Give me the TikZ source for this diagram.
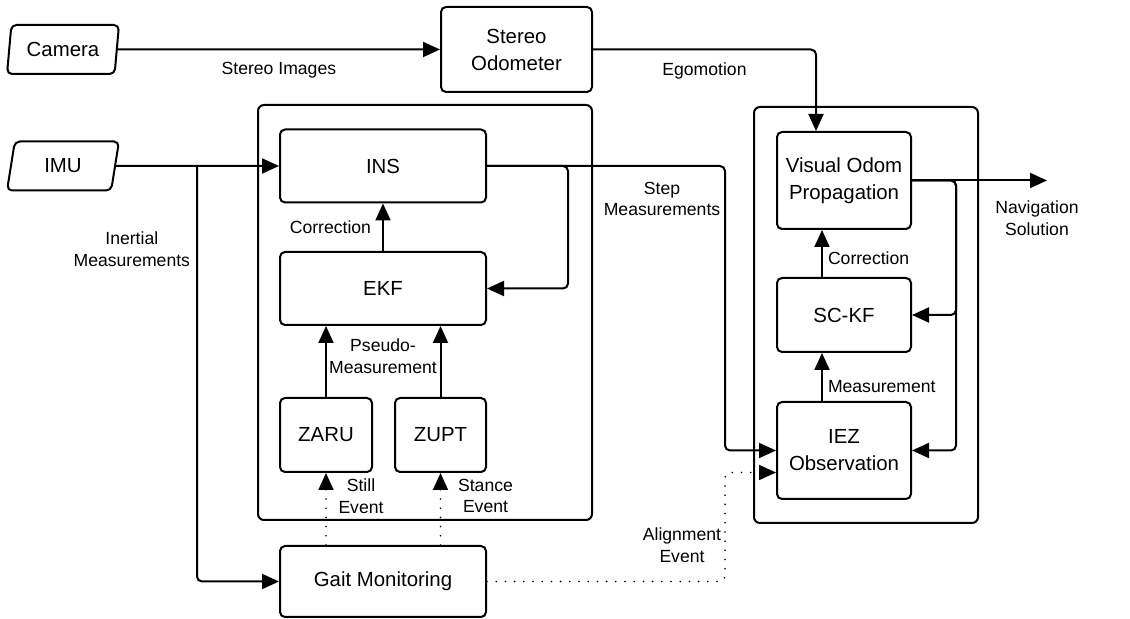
\documentclass[tikz,border=0pt]{standalone}
\usepackage{fontspec}
\setmainfont{Liberation Sans}
\usepackage{tikz}
\usetikzlibrary{arrows.meta,shapes.geometric}

\begin{document}
\begin{tikzpicture}[x=0.5pt,y=-0.5pt,
        >={Triangle[length=8.5pt,width=7.5pt]},
        block/.style={draw,line width=1pt,rounded corners=2.5pt,align=center,
              inner sep=0pt,font=\fontsize{10.2}{13.5}\selectfont},
        source/.style={draw,line width=1pt,trapezium,trapezium left angle=78,
              trapezium right angle=102,trapezium stretches=true,
              minimum width=56pt,minimum height=24.5pt,rounded corners=2.5pt,
              inner sep=0pt,font=\fontsize{10.2}{13.5}\selectfont},
        conn/.style={->,line width=1pt,rounded corners=2.5pt},
        event/.style={->,line width=0.9pt,line cap=round,dash pattern=on 0pt off 4.6pt,
              rounded corners=2.5pt},
        lbl/.style={align=center,inner sep=2pt,font=\fontsize{8.8}{10.8}\selectfont},
        group/.style={line width=1pt,rounded corners=3pt}]
      \useasboundingbox (0,0) rectangle (1130,619);

      % Frames
      \draw[group] (258,105) rectangle (592,520);
      \draw[group] (754,107) rectangle (978,523);

      % Inputs
      \node[source] (camera) at (63,49.5) {Camera};
      \node[source] (imu) at (63,166) {IMU};
      \node[block,minimum width=75.5pt,minimum height=42.5pt] (stereo) at (516.5,49.5) {Stereo\\Odometer};

      % Pedestrian INS
      \node[block,minimum width=103pt,minimum height=36.5pt] (ins) at (383,166) {INS};
      \node[block,minimum width=103pt,minimum height=36.5pt] (ekf) at (383,288.5) {EKF};
      \node[block,minimum width=46pt,minimum height=37pt] (zaru) at (326,435) {ZARU};
      \node[block,minimum width=45.5pt,minimum height=37pt] (zupt) at (440.5,435) {ZUPT};
      \node[block,minimum width=103pt,minimum height=35.5pt] (gait) at (383,581.5) {Gait Monitoring};

      % Visual odometry filter
      \node[block,minimum width=67pt,minimum height=48.5pt] (vop) at (844,180.5) {Visual Odom\\Propagation};
      \node[block,minimum width=67pt,minimum height=37pt] (sckf) at (844,315) {SC-KF};
      \node[block,minimum width=67pt,minimum height=48.5pt] (iez) at (844,450.5) {IEZ\\Observation};

      % Helper points
      \coordinate (imusplit) at (197,166);
      \coordinate (insloop) at (568,166);
      \coordinate (stepcol) at (725,166);
      \coordinate (fbcol) at (956,180.5);
      \coordinate (navend) at (1047,180.5);
      \coordinate (alignin) at ([yshift=-11pt]iez.west);

      % Camera path
      \draw[conn] (camera.east) -- node[lbl,below=3.8pt] (limages) {Stereo Images} (stereo.west);
      \draw[conn] (stereo.east) -| node[lbl,pos=0.25,below=4pt] (legomotion) {Egomotion} ([xshift=-14pt]vop.north);

      % IMU path
      \draw[conn] (imu.east) -- (ins.west);
      \draw[conn] (imusplit) |- node[lbl,pos=0.1,left=1pt] (linertial) {Inertial\\Measurements} (gait.west);
      \draw[conn] (ins.east) -- (insloop) |- (ekf.east);
      \draw[conn] (ins.east) -- (stepcol) |- (iez.west);
      \node[lbl] (lstep) at (662,199) {Step\\Measurements};
      \draw[conn] (ekf.north) -- node[lbl,left=3.5pt] (lcorrection) {Correction} (ins.south);
      \draw[conn] (zaru.north) -- (zaru.north |- ekf.south);
      \draw[conn] (zupt.north) -- (zupt.north |- ekf.south);
      \node[lbl] (lpseudo) at (383,356) {Pseudo-\\Measurement};

      % Gait events
      \draw[event] (gait.north -| zaru.south) -- (zaru.south);
      \draw[event] (gait.north -| zupt.south) -- (zupt.south);
      \node[lbl] (lstill) at (361,496) {Still\\Event};
      \node[lbl] (lstance) at (485.5,496) {Stance\\Event};
      \draw[event] (gait.east) -| (alignin -| stepcol) -- (alignin);
      \node[lbl] (lalign) at (682,545) {Alignment\\Event};

      % Filter loop
      \draw[conn] ([xshift=-11pt]sckf.north) -- node[lbl,pos=0.4,right=0.5pt] (lcorrvo) {Correction} ([xshift=-11pt]vop.south);
      \draw[conn] ([xshift=-11pt]iez.north) -- node[lbl,pos=0.3,right=0.5pt] (lmeas) {Measurement} ([xshift=-11pt]sckf.south);
      \draw[conn] (vop.east) -- (fbcol) |- (sckf.east);
      \draw[conn] (vop.east) -- (fbcol) |- (iez.east);

      % Output
      \draw[conn] (vop.east) -- (navend);
      \node[lbl] (lnav) at (1037,218) {Navigation\\Solution};
\end{tikzpicture}
\end{document}
